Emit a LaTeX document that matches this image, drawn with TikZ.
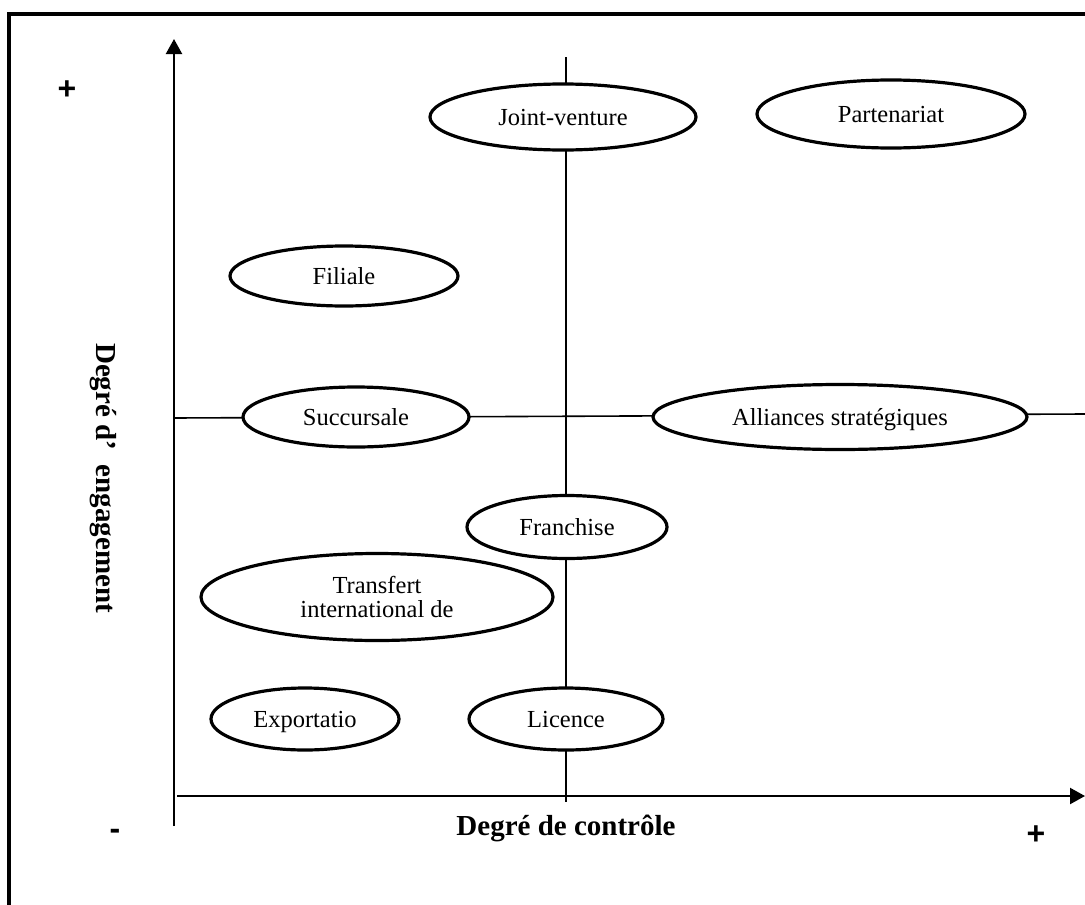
\documentclass[tikz,border=0pt]{standalone}
\usepackage{fontspec}
\setmainfont{Liberation Serif}
\newfontfamily\signfont{Liberation Sans}
\usetikzlibrary{shapes.geometric,arrows.meta}
\begin{document}
\begin{tikzpicture}[x=1pt,y=-1pt,
  bubble/.style={ellipse, draw, line width=3.2pt, fill=white, inner sep=0pt,
    font=\fontsize{24.5}{24.5}\selectfont, align=center},
  onebubble/.style={bubble, text depth=0pt},
  guide/.style={line width=1.6pt},
  axis/.style={line width=2.2pt, -{Triangle[length=15pt,width=16pt]}},
  sign/.style={font=\signfont\bfseries\fontsize{32}{34}\selectfont},
  axislabel/.style={font=\bfseries\fontsize{29}{31}\selectfont}]

\useasboundingbox (0,0) rectangle (1085,905);

% frame (left and top edges)
\draw[line width=4pt, line join=miter] (9,905) -- (9,14) -- (1085,14);

% axes and guide lines
\coordinate (yaxis0) at (174,826);
\coordinate (yaxis1) at (174,39);
\coordinate (xaxis0) at (177,796);
\coordinate (xaxis1) at (1085,796);
\coordinate (vmid0) at (566,57);
\coordinate (vmid1) at (566,802);
\coordinate (hmid0) at (174,418);
\coordinate (hmid1) at (1085,414);

\draw[axis] (yaxis0) -- (yaxis1);
\draw[axis] (xaxis0) -- (xaxis1);
\draw[guide] (vmid0) -- (vmid1);
\draw[guide] (hmid0) -- (hmid1);

% entry modes
\node[onebubble, minimum width=266pt, minimum height=66pt] (jv) at (563,117) {Joint-venture};
\node[onebubble, minimum width=268pt, minimum height=68pt] (part) at (891,114) {Partenariat};
\node[onebubble, minimum width=228pt, minimum height=60pt] (fil) at (344,276) {Filiale};
\node[onebubble, minimum width=226pt, minimum height=60pt] (succ) at (356,417) {Succursale};
\node[onebubble, minimum width=374pt, minimum height=65pt] (all) at (840,417) {Alliances stratégiques};
\node[onebubble, minimum width=200pt, minimum height=63pt] (fra) at (567,527) {Franchise};
\node[bubble, minimum width=352pt, minimum height=87pt] (tit) at (377,597) {Transfert\\international de};
\node[onebubble, minimum width=188pt, minimum height=62pt] (exp) at (305,719) {Exportatio};
\node[onebubble, minimum width=194pt, minimum height=62pt] (lic) at (566,719) {Licence};

% axis labels and signs
\node[axislabel] (ctrl) at (566,828) {Degré de contrôle};
\node[axislabel, rotate=-90] (eng) at (103,478) {Degré d’\hspace{0.5em}engagement};
\node[sign] (plustop) at (67,90) {+};
\node[sign] (minus) at (115,834) {-};
\node[sign] (plusright) at (1036,835) {+};
\end{tikzpicture}
\end{document}
